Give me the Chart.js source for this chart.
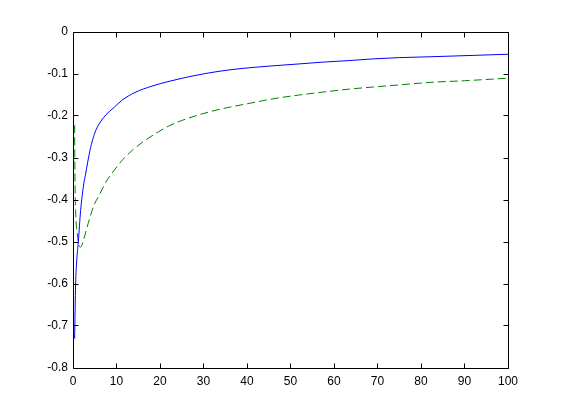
<!DOCTYPE html>
<html>
<head>
<meta charset="utf-8">
<script src="https://cdn.jsdelivr.net/npm/chart.js@4/dist/chart.umd.min.js"></script>
<style>
  body { margin: 0; background: #fff; }
  #wrap { width: 561px; height: 414px; }
</style>
</head>
<body>
<div id="wrap"><canvas id="grafica" width="561" height="414"></canvas></div>
<script>
// valores
var xAzul = [0.37, 0.6, 0.85, 1.22, 1.75, 2.5, 2.83, 3.38, 3.9, 4.53, 5.29, 6.44, 7.59, 9.5, 11.2, 14.25, 18.1, 22.3, 26.9, 31.5, 36.1, 40.7, 45.3, 52, 57, 63.5, 69, 75, 82, 88, 94, 100];
var yAzul = [-0.73, -0.60, -0.545, -0.50, -0.425, -0.36, -0.342, -0.31, -0.282, -0.256, -0.233, -0.212, -0.197, -0.179, -0.163, -0.144, -0.129, -0.117, -0.106, -0.097, -0.090, -0.085, -0.081, -0.076, -0.072, -0.068, -0.064, -0.061, -0.059, -0.057, -0.055, -0.053];

var xVerde = [0.37, 0.45, 0.6, 1.0, 1.37, 1.75, 2.5, 3.7, 4.8, 6.05, 7.7, 9.5, 11.5, 13.7, 16.3, 19.1, 22, 25.2, 29, 32.9, 36.5, 40.5, 46, 52, 57.5, 63.5, 69, 75, 82, 90, 100];
var yVerde = [-0.222, -0.345, -0.425, -0.48, -0.508, -0.512, -0.492, -0.448, -0.413, -0.388, -0.355, -0.329, -0.303, -0.281, -0.260, -0.241, -0.224, -0.210, -0.197, -0.186, -0.178, -0.170, -0.159, -0.150, -0.143, -0.136, -0.131, -0.126, -0.120, -0.116, -0.110];

var xMin = 0, xMax = 100, xPaso = 10;
var yMin = -0.8, yMax = 0, yPaso = 0.1;

function puntos(xs, ys) {
    return xs.map(function (x, i) { return { x: x, y: ys[i] }; });
}

// caja y marcas hacia dentro, estilo matlab
var cajaMatlab = {
    id: 'cajaMatlab',
    afterDraw: function (chart) {
        var ctx = chart.ctx;
        var a = chart.chartArea;
        var l = Math.floor(a.left) + 0.5, r = Math.floor(a.right) + 0.5;
        var t = Math.floor(a.top) + 0.5, b = Math.floor(a.bottom) + 0.5;
        var largo = 5;
        ctx.save();
        ctx.strokeStyle = '#000';
        ctx.lineWidth = 1;
        ctx.beginPath();
        ctx.rect(l, t, r - l, b - t);
        chart.scales.x.ticks.forEach(function (tk) {
            var px = Math.floor(chart.scales.x.getPixelForValue(tk.value)) + 0.5;
            ctx.moveTo(px, b); ctx.lineTo(px, b - largo);
            ctx.moveTo(px, t); ctx.lineTo(px, t + largo);
        });
        chart.scales.y.ticks.forEach(function (tk) {
            var py = Math.floor(chart.scales.y.getPixelForValue(tk.value)) + 0.5;
            ctx.moveTo(l, py); ctx.lineTo(l + largo, py);
            ctx.moveTo(r, py); ctx.lineTo(r - largo, py);
        });
        ctx.stroke();
        ctx.restore();
    }
};

var fuente = { family: '"Liberation Sans", Arial, sans-serif', size: 12 };

new Chart(document.getElementById('grafica').getContext('2d'), {
    type: 'line',
    data: {
        datasets: [{
            label: 'azul',
            data: puntos(xAzul, yAzul),
            borderColor: '#0000ff',
            borderWidth: 1,
            pointRadius: 0,
            fill: false,
            cubicInterpolationMode: 'monotone'
        }, {
            label: 'verde',
            data: puntos(xVerde, yVerde),
            borderColor: '#008000',
            borderWidth: 1,
            borderDash: [8, 4],
            pointRadius: 0,
            fill: false,
            cubicInterpolationMode: 'monotone'
        }]
    },
    options: {
        responsive: false,
        animation: false,
        events: [],
        layout: { padding: { left: 0, right: 53, top: 32, bottom: 0 } },
        plugins: { legend: { display: false }, tooltip: { enabled: false } },
        scales: {
            x: {
                type: 'linear',
                min: xMin, max: xMax,
                grid: { display: false, drawTicks: false },
                border: { display: false },
                ticks: { stepSize: xPaso, color: '#000', font: fuente, padding: 6, maxRotation: 0 },
                afterFit: function (s) { s.height = 46; }
            },
            y: {
                type: 'linear',
                min: yMin, max: yMax,
                grid: { display: false, drawTicks: false },
                border: { display: false },
                ticks: { stepSize: yPaso, color: '#000', font: fuente, padding: 5 },
                afterFit: function (s) { s.width = 73; }
            }
        }
    },
    plugins: [cajaMatlab]
});
</script>
</body>
</html>
